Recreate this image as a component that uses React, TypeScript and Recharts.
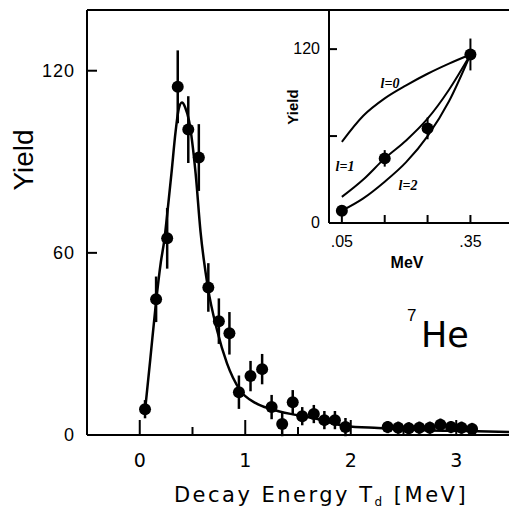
import React from "react";
import {
  ComposedChart,
  Scatter,
  Line,
  XAxis,
  YAxis,
  ErrorBar,
  ReferenceLine,
} from "recharts";

// ---- Main panel data (7He decay energy spectrum) ----
const mainEnergy = [
  0.05, 0.155, 0.26, 0.36, 0.46, 0.56, 0.65, 0.75, 0.85, 0.94, 1.05, 1.16,
  1.25, 1.35, 1.45, 1.54, 1.65, 1.75, 1.85, 1.95, 2.35, 2.45, 2.55, 2.65,
  2.75, 2.85, 2.95, 3.05, 3.15,
];
const mainYield = [
  8.5, 44.7, 64.8, 114.7, 100.6, 91.4, 48.6, 37.5, 33.5, 14.1, 19.4, 21.7,
  9.2, 3.6, 10.8, 6.2, 6.9, 4.9, 4.9, 2.6, 2.6, 2.4, 2.2, 2.4, 2.4, 3.4, 2.6,
  2.4, 2.0,
];
const mainError = [
  3, 7.5, 10, 12, 11, 11, 8, 7.5, 7, 5.5, 5, 5, 4, 4, 4, 3, 3, 3, 3, 3, 2, 2,
  2, 2, 2, 2, 2, 2, 2,
];

const fitEnergy = [
  0.05, 0.1, 0.155, 0.2, 0.232, 0.27, 0.3, 0.34, 0.37, 0.4, 0.43, 0.467, 0.53,
  0.576, 0.645, 0.733, 0.827, 0.95, 1.1, 1.25, 1.45, 1.64, 1.95, 2.26, 2.7,
  3.1, 3.5,
];
const fitYield = [
  8, 25, 44, 57, 64, 76, 86, 100, 107.5, 109.5, 108, 103.5, 86, 67, 48.8,
  34.5, 23.6, 14.8, 10.5, 8.5, 6.8, 5.6, 3, 2.3, 1.6, 1.3, 1,
];

const mainXTicks = [0, 0.5, 1, 1.5, 2, 2.5, 3];
const mainYTicks = [0, 60, 120];

// ---- Inset data ----
const insetEnergy = [0.05, 0.15, 0.25, 0.35];
const insetYield = [8.5, 44.6, 65.3, 116.3];
const insetError = [1.5, 5.7, 7.5, 11];

const insetCurveEnergy = [0.05, 0.1, 0.15, 0.2, 0.25, 0.3, 0.35];
const insetL0 = [56, 74, 86, 95, 103, 110, 116.3];
const insetL1 = [18, 30, 44.6, 57, 72, 92, 116.3];
const insetL2 = [8.5, 17, 28.5, 42, 60, 84, 116.3];

const insetXTicks = [0.05, 0.15, 0.25, 0.35];
const insetXLabels = [".05", "", "", ".35"];
const insetYTicks = [0, 60, 120];
const insetYLabels = ["0", "", "120"];

const mainPoints = mainEnergy.map((x, i) => ({
  x,
  y: mainYield[i],
  err: mainError[i],
}));
const fitCurve = fitEnergy.map((x, i) => ({ x, y: fitYield[i] }));
const insetPoints = insetEnergy.map((x, i) => ({
  x,
  y: insetYield[i],
  err: insetError[i],
}));
const curveL0 = insetCurveEnergy.map((x, i) => ({ x, y: insetL0[i] }));
const curveL1 = insetCurveEnergy.map((x, i) => ({ x, y: insetL1[i] }));
const curveL2 = insetCurveEnergy.map((x, i) => ({ x, y: insetL2[i] }));

const SANS = "'Liberation Sans', Arial, sans-serif";
const WIDE = "'DejaVu Sans', sans-serif";

const MainXTick = (props: any) => {
  const { x, y, payload } = props;
  const v = payload.value;
  const major = Number.isInteger(v);
  return (
    <g>
      <line x1={x} x2={x} y1={y} y2={y - (major ? 15 : 8)} stroke="#000" strokeWidth={2} />
      {major && (
        <text x={x} y={y + 32} textAnchor="middle" fontSize={19} fontFamily={WIDE} fill="#000">
          {String(v)}
        </text>
      )}
    </g>
  );
};

const MainYTick = (props: any) => {
  const { x, y, payload } = props;
  return (
    <g>
      <line x1={x} x2={x + 10} y1={y} y2={y} stroke="#000" strokeWidth={2} />
      <text x={x - 12} y={y + 6} textAnchor="end" fontSize={18} letterSpacing={1} fontFamily={SANS} fill="#000">
        {String(payload.value)}
      </text>
    </g>
  );
};

const InsetXTick = (props: any) => {
  const { x, y, index } = props;
  const lbl = insetXLabels[index] ?? "";
  return (
    <g>
      <line x1={x} x2={x} y1={y} y2={y - 8} stroke="#000" strokeWidth={2} />
      {lbl && (
        <text x={x} y={y + 24} textAnchor="middle" fontSize={16} fontFamily={SANS} fill="#000">
          {lbl}
        </text>
      )}
    </g>
  );
};

const InsetYTick = (props: any) => {
  const { x, y, index } = props;
  const lbl = insetYLabels[index] ?? "";
  return (
    <g>
      <line x1={x} x2={x + 8} y1={y} y2={y} stroke="#000" strokeWidth={2} />
      {lbl && (
        <text x={x - 9} y={y + 5} textAnchor="end" fontSize={16} fontFamily={SANS} fill="#000">
          {lbl}
        </text>
      )}
    </g>
  );
};

const Dot = (props: any) => {
  const { cx, cy } = props;
  return <circle cx={cx} cy={cy} r={6} fill="#000" />;
};

export default function App() {
  return (
    <div
      style={{
        position: "absolute",
        left: 0,
        top: 0,
        width: 509,
        height: 510,
        overflow: "hidden",
        background: "#fff",
      }}
    >
      <div style={{ position: "absolute", left: 0, top: 0 }}>
        <ComposedChart width={509} height={510} margin={{ top: 10, right: 0, bottom: 0, left: 0 }}>
          <XAxis
            dataKey="x"
            type="number"
            domain={[-0.5, 3.5]}
            ticks={mainXTicks}
            height={75}
            axisLine={{ stroke: "#000", strokeWidth: 2 }}
            tickLine={false}
            tickSize={0}
            tickMargin={0}
            tick={<MainXTick />}
            allowDataOverflow
          />
          <YAxis
            type="number"
            domain={[0, 140]}
            ticks={mainYTicks}
            width={87}
            axisLine={{ stroke: "#000", strokeWidth: 2 }}
            tickLine={false}
            tickSize={0}
            tickMargin={0}
            tick={<MainYTick />}
            allowDataOverflow
          />
          <ReferenceLine y={140} stroke="#000" strokeWidth={2} />
          <Line
            data={fitCurve}
            dataKey="y"
            type="monotone"
            stroke="#000"
            strokeWidth={2.5}
            dot={false}
            isAnimationActive={false}
          />
          <Scatter data={mainPoints} dataKey="y" shape={<Dot />} isAnimationActive={false}>
            <ErrorBar dataKey="err" direction="y" width={0} stroke="#000" strokeWidth={2.5} />
          </Scatter>
        </ComposedChart>
      </div>

      <div style={{ position: "absolute", left: 240, top: 0 }}>
        <ComposedChart width={269} height={280} margin={{ top: 10, right: 0, bottom: 0, left: 0 }}>
          <XAxis
            dataKey="x"
            type="number"
            domain={[0.02, 0.44]}
            ticks={insetXTicks}
            height={57}
            axisLine={{ stroke: "#000", strokeWidth: 2 }}
            tickLine={false}
            tickSize={0}
            tickMargin={0}
            tick={<InsetXTick />}
            allowDataOverflow
          />
          <YAxis
            type="number"
            domain={[0, 147]}
            ticks={insetYTicks}
            width={89}
            axisLine={{ stroke: "#000", strokeWidth: 2 }}
            tickLine={false}
            tickSize={0}
            tickMargin={0}
            tick={<InsetYTick />}
            allowDataOverflow
          />
          <Line data={curveL0} dataKey="y" type="monotone" stroke="#000" strokeWidth={2} dot={false} isAnimationActive={false} />
          <Line data={curveL1} dataKey="y" type="monotone" stroke="#000" strokeWidth={2} dot={false} isAnimationActive={false} />
          <Line data={curveL2} dataKey="y" type="monotone" stroke="#000" strokeWidth={2} dot={false} isAnimationActive={false} />
          <Scatter data={insetPoints} dataKey="y" shape={<Dot />} isAnimationActive={false}>
            <ErrorBar dataKey="err" direction="y" width={0} stroke="#000" strokeWidth={2} />
          </Scatter>
        </ComposedChart>
      </div>

      <svg
        width={509}
        height={510}
        style={{ position: "absolute", left: 0, top: 0, pointerEvents: "none" }}
      >
        <text
          x={23}
          y={160}
          transform="rotate(-90 23 160)"
          textAnchor="middle"
          dominantBaseline="central"
          fontSize={28}
          fontFamily={SANS}
          fill="#000"
        >
          Yield
        </text>
        <text x={321} y={502} textAnchor="middle" fontSize={21} letterSpacing={2.5} fontFamily={WIDE} fill="#000">
          Decay Energy T
          <tspan fontSize={12} dy={4}>d</tspan>
          <tspan dy={-4}> [MeV]</tspan>
        </text>
        <text x={407} y={321} fontSize={17} fontFamily={SANS} fill="#000">7</text>
        <text x={421} y={347} fontSize={35} fontFamily={WIDE} fill="#000">He</text>

        <text
          x={292}
          y={107}
          transform="rotate(-90 292 107)"
          textAnchor="middle"
          dominantBaseline="central"
          fontSize={15}
          fontWeight="bold"
          fontFamily={SANS}
          fill="#000"
        >
          Yield
        </text>
        <text x={407} y={268} textAnchor="middle" fontSize={16} fontWeight="bold" fontFamily={SANS} fill="#000">
          MeV
        </text>
        <text x={390} y={88} textAnchor="middle" fontSize={14} fontWeight="bold" fontStyle="italic" fontFamily="'Liberation Serif', serif" fill="#000">
          l=0
        </text>
        <text x={345} y={171} textAnchor="middle" fontSize={14} fontWeight="bold" fontStyle="italic" fontFamily="'Liberation Serif', serif" fill="#000">
          l=1
        </text>
        <text x={408} y={190} textAnchor="middle" fontSize={14} fontWeight="bold" fontStyle="italic" fontFamily="'Liberation Serif', serif" fill="#000">
          l=2
        </text>
      </svg>
    </div>
  );
}
